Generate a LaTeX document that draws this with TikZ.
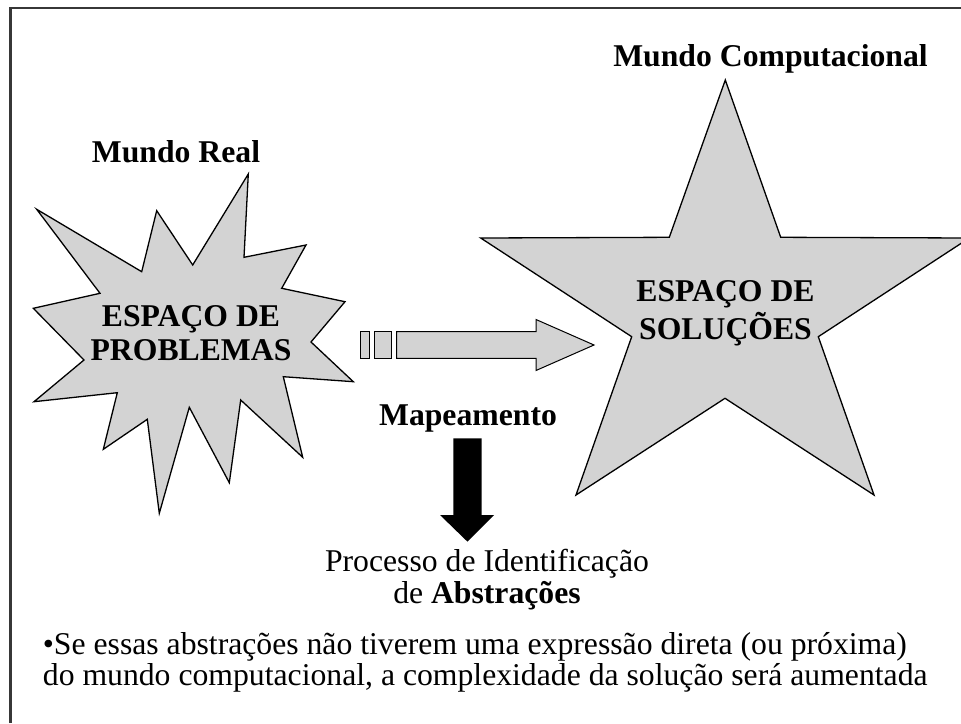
\documentclass[tikz,border=0pt]{standalone}
\usepackage{fontspec}
\setmainfont{Liberation Serif}
\definecolor{shapegray}{RGB}{211,211,211}
\definecolor{framegray}{RGB}{55,55,55}
\begin{document}
\begin{tikzpicture}[x=1pt,y=-1pt,
  shapefill/.style={fill=shapegray, draw=black, line width=1.3pt, line join=miter},
  arrowfill/.style={fill=shapegray, draw=black, line width=1pt, line join=miter},
  lbl/.style={font=\fontsize{31.7}{31.7}\selectfont\bfseries, anchor=base, inner sep=0pt},
  txt/.style={font=\fontsize{31.7}{31.7}\selectfont, anchor=base, inner sep=0pt}]
\useasboundingbox (0,0) rectangle (961,723);
\fill[white] (0,0) rectangle (961,723);
% frame
\draw[framegray, line width=2.3pt] (10.5,723) -- (10.5,7.8) -- (961,7.8);
% starburst (problem space)
\draw[shapefill] (36.7,209.3) -- (141.7,271.7) -- (156.7,210.7) -- (192.7,265) -- (248.3,174)
  -- (244,257.3) -- (306,245) -- (281.7,288.3) -- (345,301.7) -- (311,342) -- (353.3,381.7)
  -- (283.3,376.7) -- (302.7,457.3) -- (240.7,400) -- (229.3,482.7) -- (189.3,407.3)
  -- (159.3,513.3) -- (147.3,419.3) -- (103.3,449.3) -- (117.3,392.7) -- (34,401.7)
  -- (84,360) -- (33.3,308.3) -- (100,293.3) -- cycle;
% star (solution space)
\draw[shapefill] (725.3,80) -- (780.7,237.3) -- (969.3,238) -- (818.3,336.7) -- (874,495)
  -- (725,398.3) -- (576,495) -- (631.7,336.7) -- (480.7,238) -- (669.3,237.3) -- cycle;
% gray striped block arrow
\draw[arrowfill] (360.7,331.7) rectangle (369.3,358.3);
\draw[arrowfill] (374.3,331.7) rectangle (391.7,358.3);
\draw[arrowfill] (396.7,331.7) -- (536,331.7) -- (536,319.5) -- (594,345) -- (536,370.5)
  -- (536,358.3) -- (396.7,358.3) -- cycle;
% black down arrow
\fill[black] (453.3,438.3) -- (481.7,438.3) -- (481.7,515) -- (494,515) -- (467.5,541.7)
  -- (440,515) -- (453.3,515) -- cycle;
% texts
\node[lbl] (mreal) at (176,162.3) {Mundo Real};
\node[lbl] (mcomp) at (770.5,66) {Mundo Computacional};
\node[lbl] (ep1) at (191,326) {ESPAÇO DE};
\node[lbl] (ep2) at (191,360) {PROBLEMAS};
\node[lbl] (es1) at (725.5,301) {ESPAÇO DE};
\node[lbl] (es2) at (725.5,339.3) {SOLUÇÕES};
\node[lbl] (map) at (468,425) {Mapeamento};
\node[txt] (proc1) at (487,571.7) {Processo de Identificação};
\node[txt] (proc2) at (487,603.3) {de \textbf{Abstrações}};
\node[txt, anchor=north west, align=left, font=\fontsize{31.7}{30.5}\selectfont] (bul) at (42.7,632.5)
  {•Se essas abstrações não tiverem uma expressão direta (ou próxima)\\
   do mundo computacional, a complexidade da solução será aumentada};
\end{tikzpicture}
\end{document}
